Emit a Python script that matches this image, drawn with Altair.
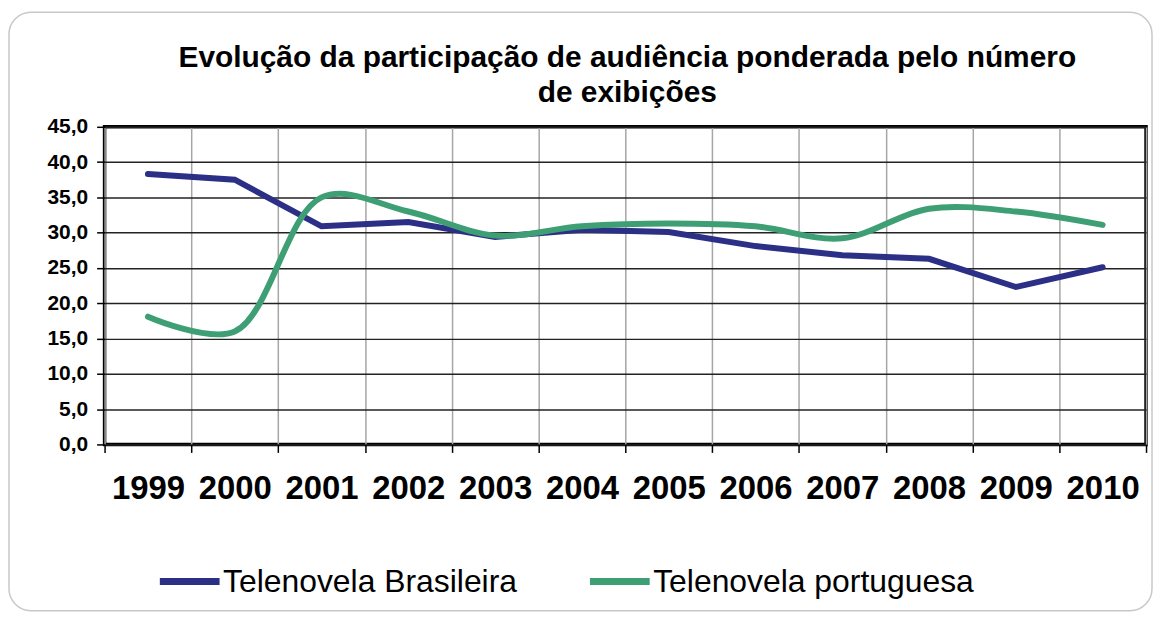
import altair as alt
import pandas as pd

years = ["1999", "2000", "2001", "2002", "2003", "2004", "2005", "2006", "2007", "2008", "2009", "2010"]
brasileira = [38.3, 37.5, 30.9, 31.5, 29.4, 30.4, 30.1, 28.1, 26.8, 26.3, 22.3, 25.1]
portuguesa = [18.1, 16.0, 35.0, 33.0, 29.6, 30.9, 31.3, 30.9, 29.2, 33.4, 33.0, 31.1]
series = ["Telenovela Brasileira", "Telenovela portuguesa"]
colors = ["#2B2F86", "#3E9F75"]
title_lines = ["Evolução da participação de audiência  ponderada pelo número", "de exibições"]
y_ticks = [0, 5, 10, 15, 20, 25, 30, 35, 40, 45]

rows = []
for y, v in zip(years, brasileira):
    rows.append({"ano": y, "serie": series[0], "valor": v})
for y, v in zip(years, portuguesa):
    rows.append({"ano": y, "serie": series[1], "valor": v})
df = pd.DataFrame(rows)

FONT = "Liberation Sans"

x_enc = alt.X(
    "ano:O",
    sort=years,
    scale=alt.Scale(type="band", paddingInner=0, paddingOuter=0),
    axis=alt.Axis(
        title=None, labelAngle=0, tickBand="extent", grid=True,
        gridColor="#a6a6a6", gridWidth=1.5, domain=False,
        tickColor="black", tickSize=8, tickWidth=1.5,
        labelFont=FONT, labelFontSize=33, labelFontWeight="bold",
        labelColor="black", labelPadding=20,
    ),
)
y_enc = alt.Y(
    "valor:Q",
    scale=alt.Scale(domain=[0, 45], nice=False, zero=True),
    axis=alt.Axis(
        title=None, values=y_ticks, grid=True, gridColor="#222222", gridWidth=1.5,
        domain=False, tickColor="black", tickSize=8, tickWidth=1.5,
        labelFont=FONT, labelFontSize=21, labelFontWeight="bold", labelColor="black",
        labelPadding=9,
        labelExpr="replace(format(datum.value, '.1f'), '.', ',')",
    ),
)
color_enc = alt.Color(
    "serie:N",
    scale=alt.Scale(domain=series, range=colors),
    legend=alt.Legend(
        title=None, orient="none", legendX=52, legendY=423, direction="horizontal",
        symbolType="stroke", symbolSize=3600, symbolStrokeWidth=7,
        labelFont=FONT, labelFontSize=32, labelColor="black", labelOffset=0,
        labelLimit=0, columnPadding=58,
    ),
)

frame = alt.Chart(pd.DataFrame({"k": [0]})).mark_rect(
    cornerRadius=22, fillOpacity=0, stroke="#c8c8c8", strokeWidth=1.5
).encode(
    x=alt.value(-96), x2=alt.value(1052), y=alt.value(-115), y2=alt.value(486)
)

title1 = alt.Chart(pd.DataFrame({"t": [title_lines[0]]})).mark_text(
    font=FONT, fontSize=30, fontWeight="bold", color="black", align="center",
    baseline="alphabetic"
).encode(text="t:N", x=alt.value(525), y=alt.value(-60))
title2 = alt.Chart(pd.DataFrame({"t": [title_lines[1]]})).mark_text(
    font=FONT, fontSize=30, fontWeight="bold", color="black", align="center",
    baseline="alphabetic"
).encode(text="t:N", x=alt.value(525), y=alt.value(-25))

base = alt.Chart(df)
line_b = base.transform_filter(alt.datum.serie == series[0]).mark_line(
    strokeWidth=6, interpolate="linear", strokeCap="round"
).encode(x=x_enc, y=y_enc, color=color_enc)
line_p = base.transform_filter(alt.datum.serie == series[1]).mark_line(
    strokeWidth=6, interpolate="catmull-rom", strokeCap="round"
).encode(x=x_enc, y=y_enc, color=color_enc)

chart = alt.layer(frame, title1, title2, line_b, line_p).properties(
    width=1046,
    height=319,
    autosize=alt.AutoSizeParams(type="none"),
    padding={"left": 97, "top": 118, "right": 7, "bottom": 168},
    background="white",
).configure_view(stroke="black", strokeWidth=3.5)

chart.save("out.html", embed_options={"renderer": "svg", "actions": False})
